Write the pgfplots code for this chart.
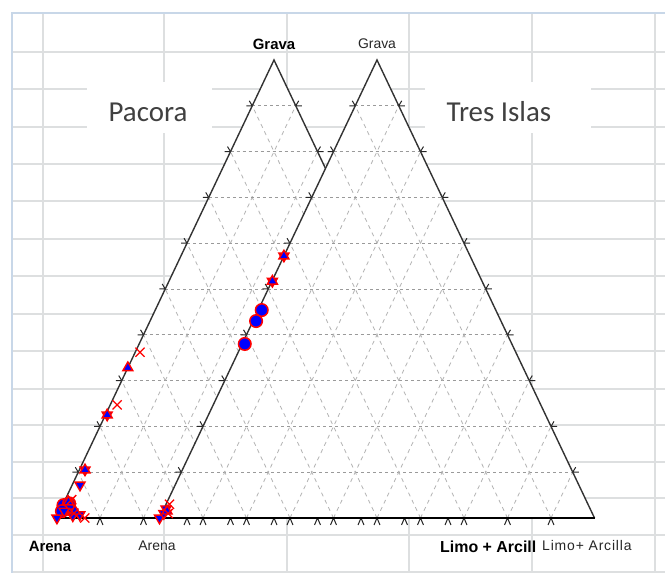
\documentclass[border=0pt]{standalone}
\usepackage{fontspec}
\setmainfont{Liberation Sans}
\newfontfamily\calibri{Carlito}
\usepackage{pgfplots}
\usepackage{pgfplotstable}
\pgfplotsset{compat=1.18}

\definecolor{sheet}{HTML}{DDDFE0}
\definecolor{sheetedge}{HTML}{C8D7E8}
\definecolor{tgrid}{HTML}{9A9A9A}
\definecolor{boxtext}{HTML}{404040}

% ternary data, percent: Grava, Arena, Limo + Arcilla
\pgfplotstableread{
G A L
2.8 97.0 0.2
3.2 95.5 1.3
2.0 96.3 1.7
1.5 98.0 0.5
}\pacCirc
\pgfplotstableread{
G A L
22.5 77.1 0.4
10.5 88.2 1.3
7.2 91.0 1.8
0.0 99.9 0.1
0.7 94.3 5.0
1.3 95.7 3.0
1.5 97.5 1.0
0.5 96.0 3.5
}\pacDown
\pgfplotstableread{
G A L
32.8 67.2 0.0
22.5 77.1 0.4
10.5 88.2 1.3
3.5 95.5 1.0
1.5 95.0 3.5
}\pacUp
\pgfplotstableread{
G A L
36.2 62.7 1.1
24.7 73.7 1.6
0.0 93.5 6.5
1.0 95.5 3.5
4.0 94.5 1.5
}\pacX

\pgfplotstableread{
G A L
45.4 53.8 0.8
43.0 56.3 0.7
38.0 61.4 0.6
}\triCirc
\pgfplotstableread{
G A L
57.2 42.8 0.0
51.7 48.2 0.1
0.0 100.0 0.0
1.0 98.5 0.5
2.0 97.5 0.5
}\triDown
\pgfplotstableread{
G A L
57.2 42.8 0.0
51.7 48.2 0.1
1.5 97.5 1.0
}\triUp
\pgfplotstableread{
G A L
3.0 96.2 0.8
1.0 97.5 1.5
}\triX

\pgfplotsset{
  dataaxis/.style={scale only axis, width=665bp, height=573bp,
    xmin=0, xmax=665, ymin=0, ymax=573, y dir=reverse,
    hide axis, clip=false, at={(0,0)}, anchor=south west},
  circ/.style={only marks, mark=*, mark size=6.3,
    mark options={fill=blue, draw=red, line width=1.5bp}},
  dtri/.style={only marks, mark=triangle*, mark size=5.8,
    mark options={rotate=180, fill=blue, draw=red, line width=1.4bp}},
  utri/.style={only marks, mark=triangle*, mark size=5.8,
    mark options={fill=blue, draw=red, line width=1.4bp}},
  xm/.style={only marks, mark=x, mark size=6.5,
    mark options={draw=red, line width=1.3bp}},
}

% triangle with left corner at x=#1 (picture pixels, base at y=518)
\newcommand\ternframe[1]{%
  \fill[white] (#1,518) -- ({#1+217.5},60) -- ({#1+435},518) -- cycle;
  \foreach \k in {1,...,9}{
    \draw[tgrid, line width=0.8bp, dash pattern=on 3bp off 3bp]
      ({#1+21.75*\k},{518-45.8*\k}) -- ({#1+435-21.75*\k},{518-45.8*\k});
    \draw[tgrid!75, line width=0.8bp, dash pattern=on 4bp off 4bp]
      ({#1+43.5*\k},518) -- ({#1+217.5+21.75*\k},{60+45.8*\k});
    \draw[tgrid!75, line width=0.8bp, dash pattern=on 4bp off 4bp]
      ({#1+435-43.5*\k},518) -- ({#1+217.5-21.75*\k},{60+45.8*\k});
    \draw[black!85, line width=1bp]
      ({#1+21.75*\k},{518-45.8*\k}) -- ++(-6,0)
      ({#1+21.75*\k},{518-45.8*\k}) -- ++(-3,-5)
      ({#1+435-21.75*\k},{518-45.8*\k}) -- ++(6,0)
      ({#1+435-21.75*\k},{518-45.8*\k}) -- ++(3,-5)
      ({#1+43.5*\k},518) -- ++(-3,7)
      ({#1+43.5*\k},518) -- ++(3,7);
  }
  \draw[black!80, line width=1.4bp] (#1,518) -- ({#1+217.5},60) -- ({#1+435},518);
  \draw[black, line width=1.8bp] (#1,518) -- ({#1+435},518);
}

\begin{document}
\begin{tikzpicture}
\useasboundingbox (0,0) rectangle (665bp,573bp);
\begin{scope}[x=1bp, y=-1bp, yshift=573bp]
  \draw[sheet, line width=1.3bp] foreach \x in {43,164,287,409,532,655} {(\x,13) -- (\x,573)};
  \draw[sheet, line width=1.3bp] foreach \y in {52,89,127,164,201,239,276,314,351,389,425,462,498,535,572} {(12,\y) -- (665,\y)};
  \draw[sheetedge, line width=1.6bp] (12,573) -- (12,13) -- (665,13);
  \fill[white] (87,82) rectangle (212,133);
  \fill[white] (425,82) rectangle (591,133);
  \node[text=boxtext, font=\calibri\fontsize{29}{34}\selectfont] at (148,112) {Pacora};
  \node[text=boxtext, font=\calibri\fontsize{29}{34}\selectfont] at (499,112) {Tres Islas};
  \ternframe{56.5}
\end{scope}

% Pacora
\begin{axis}[dataaxis]
\addplot[circ] table[x expr={56.5+4.35*\thisrow{L}+2.175*\thisrow{G}}, y expr={518-4.58*\thisrow{G}}] {\pacCirc};
\addplot[dtri] table[x expr={56.5+4.35*\thisrow{L}+2.175*\thisrow{G}}, y expr={518-4.58*\thisrow{G}}] {\pacDown};
\addplot[utri] table[x expr={56.5+4.35*\thisrow{L}+2.175*\thisrow{G}}, y expr={518-4.58*\thisrow{G}}] {\pacUp};
\addplot[xm] table[x expr={56.5+4.35*\thisrow{L}+2.175*\thisrow{G}}, y expr={518-4.58*\thisrow{G}}] {\pacX};
\end{axis}

\begin{scope}[x=1bp, y=-1bp, yshift=573bp]
  \ternframe{159.5}
\end{scope}

% Tres Islas
\begin{axis}[dataaxis]
\addplot[circ] table[x expr={159.5+4.35*\thisrow{L}+2.175*\thisrow{G}}, y expr={518-4.58*\thisrow{G}}] {\triCirc};
\addplot[dtri] table[x expr={159.5+4.35*\thisrow{L}+2.175*\thisrow{G}}, y expr={518-4.58*\thisrow{G}}] {\triDown};
\addplot[utri] table[x expr={159.5+4.35*\thisrow{L}+2.175*\thisrow{G}}, y expr={518-4.58*\thisrow{G}}] {\triUp};
\addplot[xm] table[x expr={159.5+4.35*\thisrow{L}+2.175*\thisrow{G}}, y expr={518-4.58*\thisrow{G}}] {\triX};
\end{axis}

\begin{scope}[x=1bp, y=-1bp, yshift=573bp]
  \node[font=\bfseries\fontsize{15}{18}\selectfont] at (274,44) {Grava};
  \node[text=black!85, font=\fontsize{14}{17}\selectfont] at (377,44) {Grava};
  \node[font=\bfseries\fontsize{15}{18}\selectfont] at (50,546) {Arena};
  \node[text=black!85, font=\fontsize{14}{17}\selectfont] at (157,546) {Arena};
  \node[anchor=west, inner sep=0pt, font=\bfseries\fontsize{16}{19}\selectfont] at (440,547) {Limo + Arcilla};
  \node[anchor=west, fill=white, inner xsep=6bp, inner ysep=2bp, text=black!85, font=\fontsize{14}{17}\selectfont\addfontfeature{LetterSpace=6}] at (536,546) {Limo+ Arcilla};
\end{scope}
\end{tikzpicture}
\end{document}
